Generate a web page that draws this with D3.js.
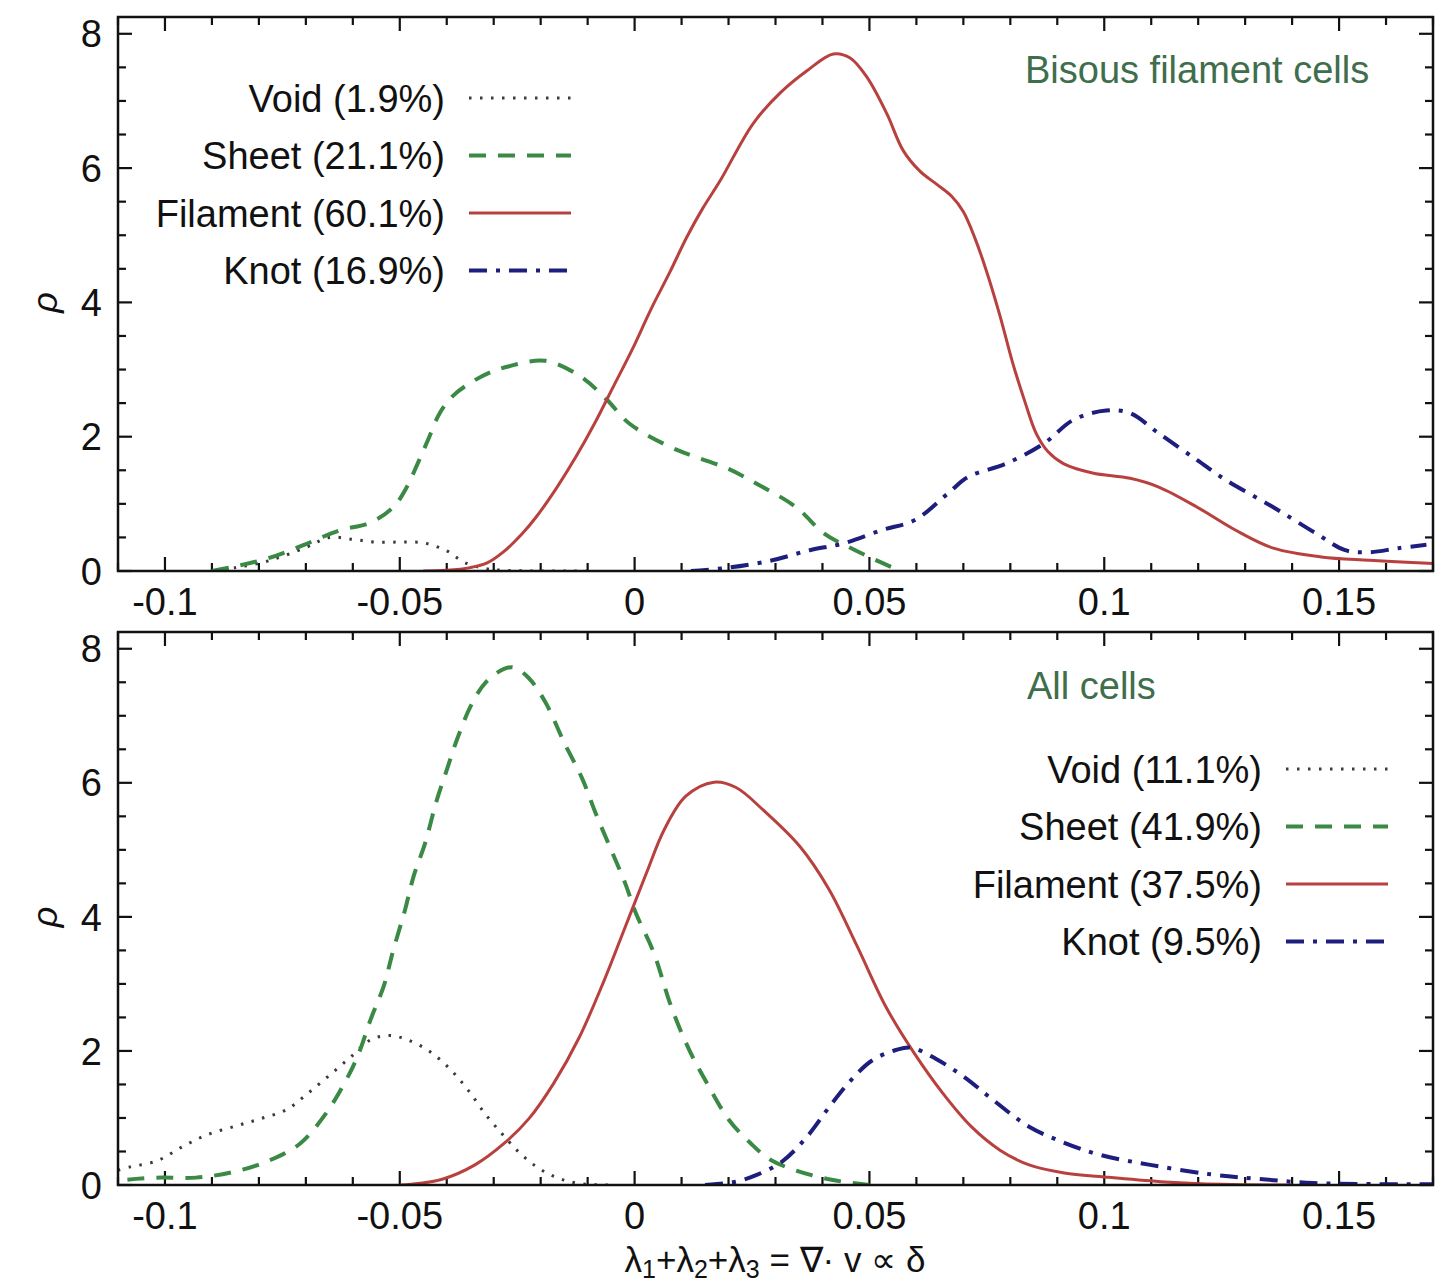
<!DOCTYPE html>
<html>
<head>
<meta charset="utf-8">
<script src="https://cdn.jsdelivr.net/npm/d3@7"></script>
<style>
  body { margin: 0; background: #fff; }
  svg { font-family: "Liberation Sans", Arial, sans-serif; }
  .tick-label { font-size: 38px; fill: #111; }
  .legend-label { font-size: 38px; fill: #111; }
</style>
</head>
<body>
<div id="chart"></div>
<script>
const width = 1449,
  height = 1288,
  margin = { left: 118, right: 16 };

// panel vertical placement
const panels = [
  { top: 17, bottom: 571 },
  { top: 632, bottom: 1185 },
];

const xTicks = [-0.1, -0.05, 0, 0.05, 0.1, 0.15];
const xTickLabels = ["-0.1", "-0.05", "0", "0.05", "0.1", "0.15"];
const yTicks = [0, 2, 4, 6, 8];

const seriesNames = ["Void", "Sheet", "Filament", "Knot"];
const topPercents = ["1.9%", "21.1%", "60.1%", "16.9%"];
const bottomPercents = ["11.1%", "41.9%", "37.5%", "9.5%"];
const panelTitles = ["Bisous filament cells", "All cells"];

// top panel: Bisous filament cells
const topVoid = [[-0.09, 0], [-0.085, 0.05], [-0.078, 0.15], [-0.07, 0.35], [-0.065, 0.5], [-0.06, 0.47],
  [-0.055, 0.43], [-0.05, 0.43], [-0.045, 0.42], [-0.04, 0.3], [-0.0363, 0.13], [-0.032, 0.04],
  [-0.028, 0.01], [-0.02, 0], [-0.01, 0]];
const topSheet = [[-0.09, 0], [-0.0857, 0.06], [-0.078, 0.19], [-0.0704, 0.39], [-0.063, 0.6], [-0.0563, 0.72],
  [-0.0514, 0.95], [-0.0485, 1.25], [-0.0462, 1.6], [-0.044, 1.95], [-0.0415, 2.35], [-0.0385, 2.62],
  [-0.035, 2.8], [-0.031, 2.95], [-0.0267, 3.05], [-0.019, 3.13], [-0.0116, 2.9], [-0.0059, 2.55],
  [-0.0012, 2.2], [0.0075, 1.85], [0.013, 1.7], [0.02, 1.52], [0.026, 1.3], [0.0344, 0.95],
  [0.0403, 0.56], [0.0455, 0.36], [0.0527, 0.12], [0.056, 0.02]];
const topFilament = [[-0.045, 0], [-0.04, 0.01], [-0.035, 0.05], [-0.0314, 0.12], [-0.028, 0.28],
  [-0.024, 0.55], [-0.021, 0.8], [-0.0165, 1.25], [-0.0125, 1.7], [-0.0085, 2.2], [-0.0045, 2.75],
  [-0.0005, 3.3], [0.0035, 3.9], [0.0075, 4.45], [0.0111, 4.97], [0.0145, 5.4], [0.0182, 5.81],
  [0.0252, 6.66], [0.031, 7.12], [0.0367, 7.45], [0.0423, 7.7], [0.0459, 7.64], [0.0495, 7.35],
  [0.0537, 6.81], [0.0572, 6.26], [0.0608, 5.95], [0.0645, 5.75], [0.0675, 5.58], [0.07, 5.35],
  [0.0725, 4.95], [0.075, 4.45], [0.0778, 3.8], [0.0805, 3.1], [0.0832, 2.5], [0.0855, 2.05], [0.088, 1.78],
  [0.0913, 1.6], [0.0975, 1.46], [0.1055, 1.38], [0.1116, 1.25], [0.1198, 0.95], [0.1279, 0.61],
  [0.136, 0.34], [0.1462, 0.21], [0.1564, 0.16], [0.17, 0.11]];
const topKnot = [[0.012, 0], [0.02, 0.05], [0.0293, 0.16], [0.0373, 0.31], [0.0444, 0.41], [0.0527, 0.61],
  [0.0597, 0.76], [0.0668, 1.16], [0.071, 1.4], [0.0791, 1.6], [0.0872, 1.9], [0.0934, 2.25],
  [0.1004, 2.39], [0.1055, 2.35], [0.1116, 2.05], [0.1198, 1.65], [0.126, 1.35], [0.136, 0.95],
  [0.1451, 0.56], [0.1513, 0.31], [0.1564, 0.28], [0.1626, 0.34], [0.1686, 0.39]];

// bottom panel: all cells
const allVoid = [[-0.11, 0.22], [-0.1074, 0.27], [-0.1017, 0.36], [-0.0963, 0.57], [-0.091, 0.75],
  [-0.0849, 0.88], [-0.0796, 0.99], [-0.0742, 1.12], [-0.0697, 1.36], [-0.0651, 1.63], [-0.0606, 1.9],
  [-0.0561, 2.17], [-0.0523, 2.23], [-0.0485, 2.17], [-0.0438, 2.0], [-0.0393, 1.73], [-0.0355, 1.42],
  [-0.0317, 1.05], [-0.0278, 0.73], [-0.0242, 0.46], [-0.0204, 0.25], [-0.0165, 0.11], [-0.0117, 0.02],
  [-0.005, 0]];
const allSheet = [[-0.108, 0.08], [-0.1017, 0.11], [-0.0934, 0.11], [-0.0857, 0.19], [-0.078, 0.36],
  [-0.0712, 0.62], [-0.0659, 1.05], [-0.0621, 1.48], [-0.0591, 1.9], [-0.0561, 2.49], [-0.0534, 2.97],
  [-0.0514, 3.5], [-0.0489, 4.1], [-0.047, 4.62], [-0.0446, 5.1], [-0.0423, 5.7], [-0.0401, 6.17],
  [-0.0378, 6.65], [-0.0348, 7.16], [-0.0317, 7.5], [-0.0278, 7.7], [-0.0257, 7.72], [-0.0225, 7.56],
  [-0.0189, 7.19], [-0.015, 6.6], [-0.0112, 6.07], [-0.0082, 5.53], [-0.005, 5.0], [-0.002, 4.5],
  [0.0003, 4.05], [0.004, 3.48], [0.0078, 2.66], [0.0116, 2.02], [0.0154, 1.52], [0.0201, 0.97],
  [0.0246, 0.63], [0.0291, 0.37], [0.0375, 0.15], [0.0443, 0.05], [0.05, 0]];
const allFilament = [[-0.05, 0], [-0.0476, 0.01], [-0.0408, 0.09], [-0.034, 0.3], [-0.0278, 0.62],
  [-0.0225, 0.99], [-0.0172, 1.52], [-0.0118, 2.2], [-0.0065, 3.05], [-0.002, 3.85], [0.0025, 4.65],
  [0.0063, 5.3], [0.0109, 5.8], [0.0169, 6.01], [0.0216, 5.93], [0.0276, 5.58], [0.0352, 5.05],
  [0.0414, 4.41], [0.0474, 3.56], [0.0535, 2.66], [0.0595, 1.97], [0.0656, 1.37], [0.0717, 0.87],
  [0.0778, 0.52], [0.084, 0.3], [0.0915, 0.18], [0.1, 0.12], [0.112, 0.05], [0.125, 0.01], [0.14, 0]];
const allKnot = [[0.015, 0], [0.0216, 0.05], [0.026, 0.15], [0.0314, 0.35], [0.0367, 0.72], [0.0413, 1.15],
  [0.0459, 1.55], [0.0504, 1.85], [0.055, 2.0], [0.0588, 2.05], [0.0642, 1.88], [0.0702, 1.61],
  [0.0763, 1.27], [0.084, 0.87], [0.0915, 0.63], [0.0991, 0.45], [0.1098, 0.3], [0.1226, 0.16],
  [0.133, 0.09], [0.1445, 0.03], [0.17, 0.01]];

const styles = [
  { color: "#3a3a3a", width: 3, dash: "2.5,8.5" },
  { color: "#3a8a45", width: 4, dash: "17,12" },
  { color: "#b8403e", width: 3, dash: null },
  { color: "#1e1e7e", width: 4, dash: "18,9,4,9" },
];

const svg = d3.select("#chart").append("svg")
  .attr("width", width)
  .attr("height", height);

const xScale = d3.scaleLinear()
  .domain([-0.11, 0.17])
  .range([margin.left, width - margin.right]);

const line = (yScale) => d3.line()
  .x(d => xScale(d[0]))
  .y(d => yScale(d[1]))
  .curve(d3.curveCatmullRom.alpha(0.5));

function drawPanel(i, seriesData, percents, legendPos, titlePos) {
  const p = panels[i];
  const yScale = d3.scaleLinear().domain([0, 8.25]).range([p.bottom, p.top]);
  const g = svg.append("g");

  // minor + major ticks, all four sides, pointing inward
  const xMinor = d3.range(-11, 18).map(k => k / 100);
  const yMinor = d3.range(0, 17).map(k => k / 2);
  const tickG = g.append("g").attr("stroke", "#111").attr("stroke-width", 2.2);
  xMinor.forEach(v => {
    const major = Math.abs(Math.round(v * 100) % 5) === 0;
    const len = major ? 14 : 8;
    const x = xScale(v);
    tickG.append("line").attr("x1", x).attr("x2", x).attr("y1", p.bottom).attr("y2", p.bottom - len);
    tickG.append("line").attr("x1", x).attr("x2", x).attr("y1", p.top).attr("y2", p.top + len);
  });
  yMinor.forEach(v => {
    const major = v % 2 === 0;
    const len = major ? 14 : 8;
    const y = yScale(v);
    tickG.append("line").attr("x1", margin.left).attr("x2", margin.left + len).attr("y1", y).attr("y2", y);
    tickG.append("line").attr("x1", width - margin.right).attr("x2", width - margin.right - len).attr("y1", y).attr("y2", y);
  });

  // curves, clipped to the frame
  const clipId = "clip" + i;
  g.append("clipPath").attr("id", clipId).append("rect")
    .attr("x", margin.left).attr("y", p.top)
    .attr("width", width - margin.right - margin.left).attr("height", p.bottom - p.top);
  const curves = g.append("g").attr("clip-path", `url(#${clipId})`);
  seriesData.forEach((data, k) => {
    curves.append("path")
      .datum(data)
      .attr("fill", "none")
      .attr("stroke", styles[k].color)
      .attr("stroke-width", styles[k].width)
      .attr("stroke-dasharray", styles[k].dash)
      .attr("d", line(yScale));
  });

  // frame
  g.append("rect")
    .attr("x", margin.left).attr("y", p.top)
    .attr("width", width - margin.right - margin.left).attr("height", p.bottom - p.top)
    .attr("fill", "none").attr("stroke", "#111").attr("stroke-width", 2.5);

  // tick labels
  xTicks.forEach((v, k) => {
    g.append("text").attr("class", "tick-label")
      .attr("x", xScale(v)).attr("y", p.bottom + 44)
      .attr("text-anchor", "middle").text(xTickLabels[k]);
  });
  yTicks.forEach(v => {
    g.append("text").attr("class", "tick-label")
      .attr("x", margin.left - 16).attr("y", yScale(v)).attr("dy", "0.36em")
      .attr("text-anchor", "end").text(v);
  });

  // y-axis label
  g.append("text")
    .attr("transform", `translate(44,${yScale(4)}) rotate(-90)`)
    .attr("text-anchor", "middle").attr("dy", "0.35em")
    .style("font-size", "36px").style("font-style", "italic").attr("fill", "#111")
    .text("ρ");

  // panel title
  g.append("text")
    .attr("x", titlePos[0]).attr("y", titlePos[1]).attr("dy", "0.36em")
    .style("font-size", "38px").attr("fill", "#3f6e4c")
    .text(panelTitles[i]);

  // legend
  seriesNames.forEach((name, k) => {
    const y = legendPos[1] + k * 57.5;
    g.append("text").attr("class", "legend-label")
      .attr("x", legendPos[0]).attr("y", y).attr("dy", "0.36em")
      .attr("text-anchor", "end").text(`${name} (${percents[k]})`);
    g.append("line")
      .attr("x1", legendPos[0] + 24).attr("x2", legendPos[0] + 126)
      .attr("y1", y).attr("y2", y)
      .attr("stroke", styles[k].color)
      .attr("stroke-width", styles[k].width)
      .attr("stroke-dasharray", styles[k].dash);
  });
}

drawPanel(0, [topVoid, topSheet, topFilament, topKnot], topPercents, [445, 98], [1025, 69]);
drawPanel(1, [allVoid, allSheet, allFilament, allKnot], bottomPercents, [1262, 769], [1027, 685]);

// x-axis label
const xl = svg.append("text")
  .attr("x", 775).attr("y", 1272)
  .attr("text-anchor", "middle")
  .style("font-size", "35px").attr("fill", "#111");
xl.append("tspan").text("λ");
xl.append("tspan").attr("dy", 6).style("font-size", "25px").text("1");
xl.append("tspan").attr("dy", -6).text("+λ");
xl.append("tspan").attr("dy", 6).style("font-size", "25px").text("2");
xl.append("tspan").attr("dy", -6).text("+λ");
xl.append("tspan").attr("dy", 6).style("font-size", "25px").text("3");
xl.append("tspan").attr("dy", -6).text(" = ∇· v ∝ δ");
</script>
</body>
</html>
